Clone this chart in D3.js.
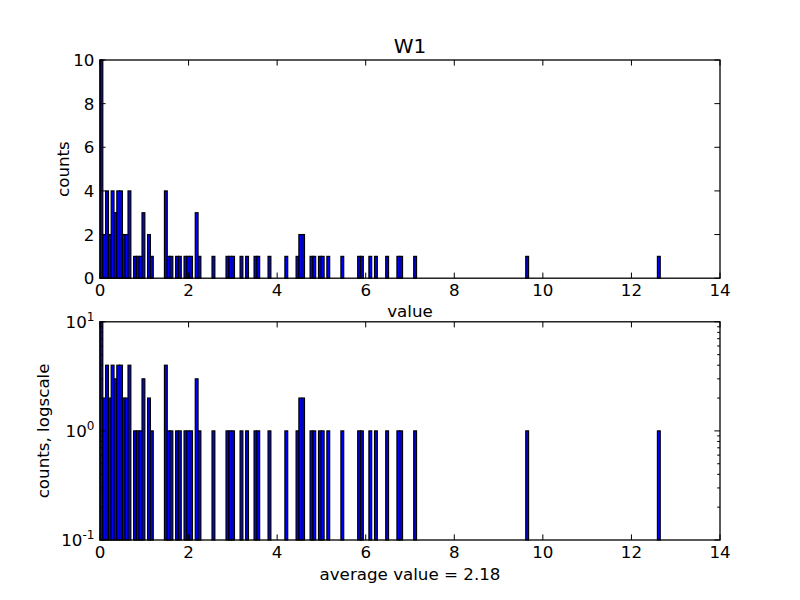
<!DOCTYPE html>
<html><head><meta charset="utf-8">
<script src="https://cdn.jsdelivr.net/npm/d3@7"></script>
<style>body{margin:0;background:#fff}text{font-family:"DejaVu Sans",sans-serif;fill:#000}</style>
</head><body><svg id="c" width="800" height="600"></svg>
<script>
const title = "W1";
const binWidth = 0.06325;
const binStarts = [0.000,0.063,0.127,0.190,0.253,0.316,0.380,0.443,0.506,0.569,0.633,0.759,0.822,0.886,0.949,1.075,1.139,
 1.455,1.518,1.581,1.708,1.771,1.898,1.961,2.024,2.151,2.214,2.530,2.846,2.910,2.973,3.163,3.289,3.479,3.542,3.795,
 4.175,4.428,4.491,4.554,4.744,4.807,4.934,4.997,5.123,5.440,5.819,5.882,6.072,6.199,6.452,6.705,6.768,7.084,9.614,12.587];
const counts = [10,2,4,2,4,3,4,4,2,2,4,1,1,1,3,2,1,
 4,1,1,1,1,1,1,1,3,1,1,1,1,1,1,1,1,1,1,
 1,1,2,2,1,1,1,1,1,1,1,1,1,1,1,1,1,1,1,1];
const xTicks = [0,2,4,6,8,10,12,14];
const yTicksLin = [0,2,4,6,8,10];
const yTicksLog = [0.1,1,10];
const yLogExp = ["-1","0","1"];
const xLabelTop = "value", yLabelTop = "counts";
const xLabelBot = "average value = 2.18", yLabelBot = "counts, logscale";

const svg = d3.select("#c");
const L = 100, R = 720, W = R - L;
const fs = 16.7, tickLen = 5.6, minorLen = 2.8, pad = 5.6;
const x = d3.scaleLinear().domain([0,14]).range([L,R]);
const data = binStarts.map((s,i)=>({s, c: counts[i]}));

function panel(top, bottom, y, isLog){
  const g = svg.append("g");
  const base = isLog ? bottom : y(0);
  g.selectAll("rect").data(data).join("rect")
    .attr("x", d=>x(d.s)).attr("width", d=>x(d.s+binWidth)-x(d.s))
    .attr("y", d=>y(d.c)).attr("height", d=>base - y(d.c))
    .attr("fill","#0000ff").attr("stroke","#000").attr("stroke-width",1.2);
  // frame
  g.append("rect").attr("x",L).attr("y",top).attr("width",W).attr("height",bottom-top)
    .attr("fill","none").attr("stroke","#000").attr("stroke-width",1.3);
  // x ticks inside, bottom and top
  xTicks.forEach(t=>{
    const px = x(t);
    g.append("line").attr("x1",px).attr("x2",px).attr("y1",bottom).attr("y2",bottom-tickLen).attr("stroke","#000");
    g.append("line").attr("x1",px).attr("x2",px).attr("y1",top).attr("y2",top+tickLen).attr("stroke","#000");
    g.append("text").attr("x",px).attr("y",bottom+pad+fs*0.76).attr("text-anchor","middle")
      .attr("font-size",fs).text(t);
  });
  return g;
}

// top panel
const top1 = 60, bot1 = 278.2;
const y1 = d3.scaleLinear().domain([0,10]).range([bot1, top1]);
const g1 = panel(top1, bot1, y1, false);
yTicksLin.forEach(t=>{
  const py = y1(t);
  g1.append("line").attr("x1",L).attr("x2",L+tickLen).attr("y1",py).attr("y2",py).attr("stroke","#000");
  g1.append("line").attr("x1",R).attr("x2",R-tickLen).attr("y1",py).attr("y2",py).attr("stroke","#000");
  g1.append("text").attr("x",L-pad).attr("y",py+fs*0.36).attr("text-anchor","end").attr("font-size",fs).text(t);
});
svg.append("text").attr("x",(L+R)/2).attr("y",top1-7).attr("text-anchor","middle").attr("font-size",20).text(title);
svg.append("text").attr("x",(L+R)/2).attr("y",317).attr("text-anchor","middle").attr("font-size",fs).text(xLabelTop);
svg.append("text").attr("transform",`translate(69,${(top1+bot1)/2}) rotate(-90)`).attr("text-anchor","middle").attr("font-size",fs).text(yLabelTop);

// bottom panel
const top2 = 321.8, bot2 = 540;
const y2 = d3.scaleLog().domain([0.1,10]).range([bot2, top2]);
const g2 = panel(top2, bot2, y2, true);
yTicksLog.forEach((t,i)=>{
  const py = y2(t);
  g2.append("line").attr("x1",L).attr("x2",L+tickLen).attr("y1",py).attr("y2",py).attr("stroke","#000");
  g2.append("line").attr("x1",R).attr("x2",R-tickLen).attr("y1",py).attr("y2",py).attr("stroke","#000");
  const tx = g2.append("text").attr("x",L-pad).attr("y",py+fs*0.36).attr("text-anchor","end").attr("font-size",fs);
  tx.append("tspan").text("10");
  tx.append("tspan").attr("dy",-7).attr("font-size",12).text(yLogExp[i]);
});
[0.2,0.3,0.4,0.5,0.6,0.7,0.8,0.9,2,3,4,5,6,7,8,9].forEach(t=>{
  const py = y2(t);
  g2.append("line").attr("x1",L).attr("x2",L+minorLen).attr("y1",py).attr("y2",py).attr("stroke","#000");
  g2.append("line").attr("x1",R).attr("x2",R-minorLen).attr("y1",py).attr("y2",py).attr("stroke","#000");
});
svg.append("text").attr("x",(L+R)/2).attr("y",580).attr("text-anchor","middle").attr("font-size",fs).text(xLabelBot);
svg.append("text").attr("transform",`translate(49,${(top2+bot2)/2}) rotate(-90)`).attr("text-anchor","middle").attr("font-size",fs).text(yLabelBot);
</script></body></html>
